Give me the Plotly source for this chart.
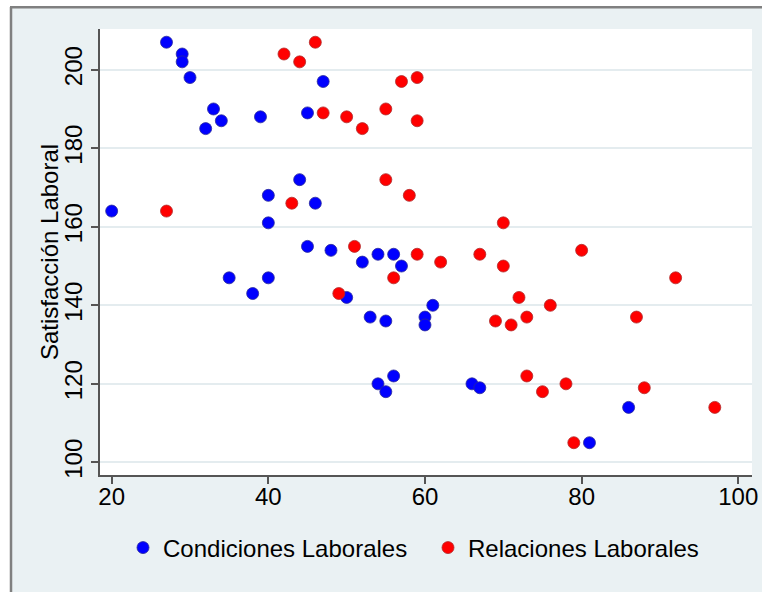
import plotly.graph_objects as go

# Condiciones Laborales (blue)
cond_x = [27, 29, 29, 30, 33, 34, 32, 39, 45, 47, 20, 40, 40, 44, 46, 45, 35, 40, 38,
          48, 52, 54, 56, 57, 50, 61, 53, 55, 60, 60, 56, 54, 55, 66, 67, 86, 81]
cond_y = [207, 204, 202, 198, 190, 187, 185, 188, 189, 197, 164, 168, 161, 172, 166, 155, 147, 147, 143,
          154, 151, 153, 153, 150, 142, 140, 137, 136, 137, 135, 122, 120, 118, 120, 119, 114, 105]

# Relaciones Laborales (red)
rel_x = [46, 42, 44, 27, 43, 47, 57, 59, 50, 52, 55, 59, 55, 58, 70, 51, 56, 59,
         62, 67, 70, 49, 72, 69, 71, 73, 73, 80, 92, 76, 87, 75, 78, 88, 97, 79]
rel_y = [207, 204, 202, 164, 166, 189, 197, 198, 188, 185, 190, 187, 172, 168, 161, 155, 147, 153,
         151, 153, 150, 143, 142, 136, 135, 137, 122, 154, 147, 140, 137, 118, 120, 119, 114, 105]

x_ticks = [20, 40, 60, 80, 100]
y_ticks = [100, 120, 140, 160, 180, 200]

FONT = "Liberation Sans, Arial, sans-serif"
BG = "#EAF1F3"

fig = go.Figure()
fig.add_trace(go.Scatter(
    x=cond_x, y=cond_y, mode="markers", name="Condiciones Laborales",
    marker=dict(size=12, color="#0000FF", line=dict(color="#2A2A9A", width=0.8)),
))
fig.add_trace(go.Scatter(
    x=rel_x, y=rel_y, mode="markers", name="Relaciones Laborales",
    marker=dict(size=12, color="#FF0000", line=dict(color="#B02C2C", width=0.8)),
))

# full-window figure (page margin removed after drawing)
W, H = 762, 592
L, T = 100, 29
R = W - 752
B = H - 475
pw, ph = W - L - R, H - T - B

def px2x(px):
    return (px - L) / pw

def py2y(py):
    return (H - B - py) / ph

shapes = [
    dict(type="rect", xref="paper", yref="paper", x0=px2x(-30), x1=px2x(10), y0=py2y(640), y1=py2y(-30),
         fillcolor="white", line=dict(width=0), layer="below"),
    dict(type="rect", xref="paper", yref="paper", x0=px2x(-30), x1=px2x(800), y0=py2y(6), y1=py2y(-30),
         fillcolor="white", line=dict(width=0), layer="below"),
    dict(type="line", xref="paper", yref="paper", x0=px2x(11), x1=px2x(11), y0=py2y(640), y1=py2y(7),
         line=dict(color="#808080", width=2.5), layer="below"),
    dict(type="line", xref="paper", yref="paper", x0=px2x(10), x1=px2x(800), y0=py2y(7.3), y1=py2y(7.3),
         line=dict(color="#808080", width=2.5), layer="below"),
]

annotations = [
    dict(text="Satisfacción Laboral", xref="paper", yref="paper",
         x=px2x(49), y=py2y(252), xanchor="center", yanchor="middle",
         textangle=-90, showarrow=False, font=dict(size=24, family=FONT, color="black")),
]

fig.update_layout(
    width=W, height=H,
    margin=dict(l=L, r=R, t=T, b=B, autoexpand=False),
    paper_bgcolor=BG, plot_bgcolor="white",
    font=dict(family=FONT, size=24, color="black"),
    showlegend=True,
    legend=dict(orientation="h", x=px2x(123), xanchor="left", y=py2y(548), yanchor="middle",
                bgcolor="rgba(0,0,0,0)", font=dict(size=24, family=FONT),
                entrywidth=260, entrywidthmode="pixels"),
    shapes=shapes,
    annotations=annotations,
    xaxis=dict(range=[18.51, 101.75], tickvals=x_ticks, showgrid=False, zeroline=False,
               showline=True, linecolor="#555555", linewidth=1.5,
               ticks="outside", ticklen=7, tickcolor="#555555", tickwidth=1.5,
               ticklabelstandoff=-8, ticklabeloverflow="allow",
               tickfont=dict(size=24, family=FONT)),
    yaxis=dict(range=[96.78, 210.37], tickvals=y_ticks, showgrid=True, gridcolor="#E4ECEF", gridwidth=2,
               zeroline=False, showline=True, linecolor="#555555", linewidth=1.5,
               ticks="outside", ticklen=7, tickcolor="#555555", tickwidth=1.5,
               tickangle=-90, tickfont=dict(size=24, family=FONT)),
)

fig.write_html("out.html", config={"displayModeBar": False},
               post_script="document.body.style.margin='0';")
